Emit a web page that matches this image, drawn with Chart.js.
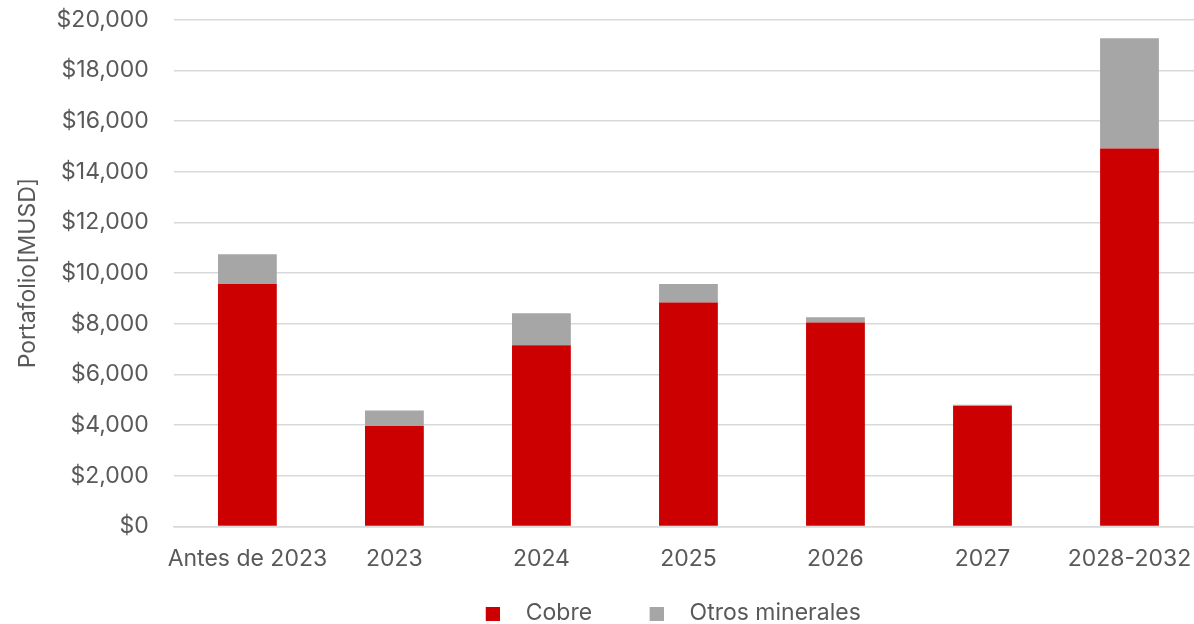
<!DOCTYPE html>
<html>
<head>
<meta charset="utf-8">
<script src="https://cdn.jsdelivr.net/npm/chart.js@4/dist/chart.umd.min.js"></script>
<style>
  html, body { margin: 0; padding: 0; background: #ffffff; overflow: hidden; }
  #wrap { position: absolute; left: 0; top: 0; width: 1203px; height: 624px; }
</style>
</head>
<body>
<div id="wrap"><canvas id="c"></canvas></div>
<script>
const categories = ["Antes de 2023", "2023", "2024", "2025", "2026", "2027", "2028-2032"];
const cobre = [9570, 3960, 7150, 8840, 8050, 4750, 14920];
const otrosMinerales = [1170, 620, 1260, 730, 210, 50, 4350];
const yTicks = [0, 2000, 4000, 6000, 8000, 10000, 12000, 14000, 16000, 18000, 20000];

const FONT = "Inter, 'Open Sans', sans-serif";
const FS = 23;
const TEXT = "#595959";
const COLORS = ["#cc0000", "#a6a6a6"];

// legend marker: a 14px square at the right end of a transparent strip
function marker(color) {
  const cv = document.createElement("canvas");
  cv.width = 49; cv.height = 14;
  const g = cv.getContext("2d");
  g.fillStyle = color;
  g.fillRect(35, 0, 14, 14);
  return cv;
}
const markers = COLORS.map(marker);

const legendShift = {
  id: "legendShift",
  afterLayout(chart) {
    const lg = chart.legend;
    if (!lg) return;
    const dx = 40, dy = 3;
    lg.left += dx; lg.right += dx;
    lg.top += dy; lg.bottom += dy;
  }
};

new Chart(document.getElementById("c"), {
  type: "bar",
  data: {
    labels: categories,
    datasets: [
      { label: "Cobre", data: cobre, backgroundColor: COLORS[0], barPercentage: 0.4, categoryPercentage: 1.0 },
      { label: "Otros minerales", data: otrosMinerales, backgroundColor: COLORS[1], barPercentage: 0.4, categoryPercentage: 1.0 }
    ]
  },
  plugins: [legendShift],
  options: {
    responsive: true,
    maintainAspectRatio: false,
    animation: false,
    layout: { padding: { left: 14, top: 0, right: 0, bottom: -8 } },
    plugins: {
      tooltip: { enabled: false },
      legend: {
        position: "bottom",
        labels: {
          font: { family: FONT, size: FS },
          color: TEXT,
          usePointStyle: true,
          pointStyleWidth: 78,
          padding: 8,
          generateLabels(chart) {
            const items = Chart.defaults.plugins.legend.labels.generateLabels(chart);
            items.forEach((it) => { it.pointStyle = markers[it.datasetIndex]; });
            return items;
          }
        }
      }
    },
    scales: {
      x: {
        stacked: true,
        grid: { display: true, drawOnChartArea: false, drawTicks: true, tickLength: 19, tickColor: "rgba(0,0,0,0)" },
        border: { display: true, color: "#d9d9d9", width: 1.5 },
        ticks: { font: { family: FONT, size: FS }, color: TEXT, padding: 0, maxRotation: 0, autoSkip: false },
        afterFit(scale) { scale.height += 18; }
      },
      y: {
        stacked: true,
        min: 0,
        max: 20000,
        afterBuildTicks: (axis) => { axis.ticks = yTicks.map(v => ({ value: v })); },
        grid: { color: "#d9d9d9", lineWidth: 1.5, drawTicks: true, tickLength: 19, tickColor: "rgba(0,0,0,0)" },
        border: { display: false },
        ticks: {
          font: { family: FONT, size: FS },
          color: TEXT,
          padding: 6,
          callback: (v) => "$" + Number(v).toLocaleString("en-US")
        },
        title: {
          display: true,
          text: "Portafolio[MUSD]",
          font: { family: FONT, size: FS },
          color: TEXT,
          padding: { top: 0, bottom: 9 }
        }
      }
    }
  }
});
</script>
</body>
</html>
